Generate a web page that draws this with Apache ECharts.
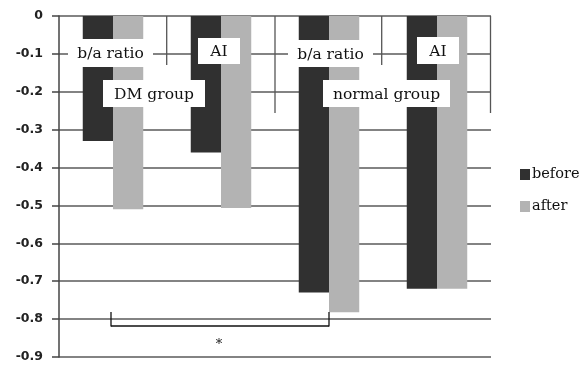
<!DOCTYPE html>
<html>
<head>
<meta charset="utf-8">
<script src="https://cdn.jsdelivr.net/npm/echarts@6/dist/echarts.min.js"></script>
<style>html,body{margin:0;padding:0;background:#fff}#c{width:583px;height:365px}</style>
</head>
<body>
<div id="c"></div>
<script>
var categories = ['DM b/a ratio', 'DM AI', 'normal b/a ratio', 'normal AI'];
var before = [-0.33, -0.36, -0.73, -0.72];
var after = [-0.51, -0.507, -0.782, -0.72];
var yTicks = { min: -0.9, max: 0, interval: 0.1 };

var chart = echarts.init(document.getElementById('c'), null, { renderer: 'canvas' });
var serif = '"DejaVu Serif", "Liberation Serif", serif';

function box(x, y, w, h, text) {
  return [
    { type: 'rect', z: 100, shape: { x: x, y: y, width: w, height: h }, style: { fill: '#fff' } },
    { type: 'text', z: 101, x: x + w / 2, y: y + h / 2 + 1,
      style: { text: text, fill: '#111', font: '15.5px ' + serif, align: 'center', verticalAlign: 'middle' } }
  ];
}
function line(x1, y1, x2, y2, c, w) {
  return { type: 'line', z: 90, shape: { x1: x1, y1: y1, x2: x2, y2: y2 }, style: { stroke: c || '#555', lineWidth: w || 1.3 } };
}

var graphics = [
  line(166.7, 16, 166.7, 65),
  line(275, 16, 275, 113),
  line(381.7, 16, 381.7, 65),
  line(490.5, 16, 490.5, 113),
  line(111, 312, 111, 326.5, '#111', 1.3),
  line(111, 326, 329, 326, '#111', 1.3),
  line(329, 312, 329, 326.5, '#111', 1.3),
  { type: 'text', z: 100, x: 219, y: 345, style: { text: '*', font: '13px ' + serif, fill: '#111', align: 'center', verticalAlign: 'middle' } }
].concat(
  box(68, 39, 85, 28, 'b/a ratio'),
  box(198, 38, 42, 26, 'AI'),
  box(103, 80, 102, 27, 'DM group'),
  box(288, 40, 85, 27, 'b/a ratio'),
  box(417, 37, 42, 27, 'AI'),
  box(323, 80, 127, 27, 'normal group')
);

chart.setOption({
  animation: false,
  backgroundColor: '#fff',
  grid: { left: 59, right: 92, top: 16, bottom: 8 },
  legend: {
    orient: 'vertical', left: 515, top: 162,
    itemWidth: 10, itemHeight: 11, itemGap: 17,
    textStyle: { fontFamily: serif, fontSize: 14.5, color: '#111', padding: [0, 0, 0, -3] },
    data: [{ name: 'before', icon: 'rect' }, { name: 'after', icon: 'rect' }]
  },
  xAxis: {
    type: 'category', data: categories,
    axisLine: { show: false }, axisTick: { show: false }, axisLabel: { show: false }, splitLine: { show: false }
  },
  yAxis: {
    type: 'value', min: yTicks.min, max: yTicks.max, interval: yTicks.interval,
    axisLine: { show: true, lineStyle: { color: '#444', width: 1.5 } },
    axisTick: { show: true, length: 7, lineStyle: { color: '#444', width: 1.5 } },
    axisLabel: { margin: 16, fontFamily: '"DejaVu Sans", sans-serif', fontSize: 12.5, fontWeight: 'bold', color: '#222',
      formatter: function (v) { return v === 0 ? '0' : v.toFixed(1); } },
    splitLine: { show: true, lineStyle: { color: '#5a5a5a', width: 1.5 } }
  },
  series: [
    { name: 'before', type: 'bar', data: before, barGap: '0%', barCategoryGap: '44%',
      itemStyle: { color: '#303030' }, z: 2 },
    { name: 'after', type: 'bar', data: after, barGap: '0%', barCategoryGap: '44%',
      itemStyle: { color: '#b3b3b3' }, z: 2 }
  ],
  graphic: graphics
});
</script>
</body>
</html>
